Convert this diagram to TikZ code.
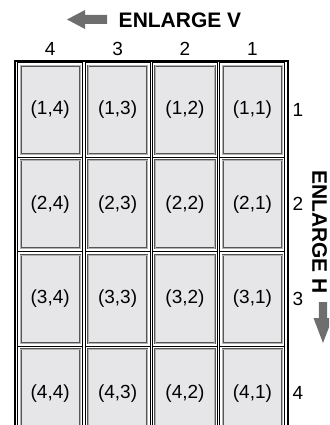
\documentclass[tikz,border=0pt]{standalone}
\usepackage{fontspec}
\setmainfont{Liberation Sans}
\definecolor{cellgray}{HTML}{E6E6E8}
\definecolor{cellline}{HTML}{555555}
\definecolor{arrowgray}{HTML}{6E6E6E}
\begin{document}
\begin{tikzpicture}[x=1pt, y=-1pt,
  cell/.style={draw=cellline, double=black!30, double distance=0.5pt, line width=0.75pt,
    fill=cellgray, minimum width=59.4pt, minimum height=88pt, inner sep=0pt,
    font=\fontsize{19}{21}\selectfont},
  numlabel/.style={inner sep=0pt, font=\fontsize{19}{21}\selectfont},
  enlarge/.style={inner sep=0pt, font=\fontsize{21}{23}\selectfont\bfseries}]
  \useasboundingbox (0,0) rectangle (329,425);
  \clip (0,0) rectangle (329,425);

  % outer frame
  \draw[line width=2pt] (15,61) rectangle (288.1,470);

  % cells
  \foreach \r in {1,...,4}
    \foreach \c in {1,...,4} {
      \pgfmathsetmacro\cx{16.5+(4-\c+0.5)*67.4}
      \pgfmathsetmacro\cy{62.5+(\r-0.5)*94.5}
      \draw[line width=0.9pt] (\cx-32.5,\cy-47.25) rectangle (\cx+32.5,\cy+47.25);
      \node[cell] (c\r\c) at (\cx,\cy) {(\r,\c)};
    }

  % column and row numbers
  \foreach \c in {1,...,4}
    \node[numlabel] (col\c) at ({16.5+(4-\c+0.5)*67.4},49) {\c};
  \foreach \r in {1,...,4}
    \node[numlabel] (row\r) at (298,{62.5+(\r-0.5)*94.5}) {\r};

  % enlarge arrows
  \fill[arrowgray] (67,19.5) -- (85,10) -- (85,15) -- (107,15) -- (107,24) -- (85,24) -- (85,29) -- cycle;
  \node[enlarge] (enlv) at (180,20) {ENLARGE V};
  \node[enlarge, rotate=-90] (enlh) at (319.5,232) {ENLARGE H};
  \fill[arrowgray] (323,343) -- (313.5,318) -- (318.8,318) -- (318.8,302) -- (327.2,302) -- (327.2,318) -- (332.5,318) -- cycle;
\end{tikzpicture}
\end{document}
